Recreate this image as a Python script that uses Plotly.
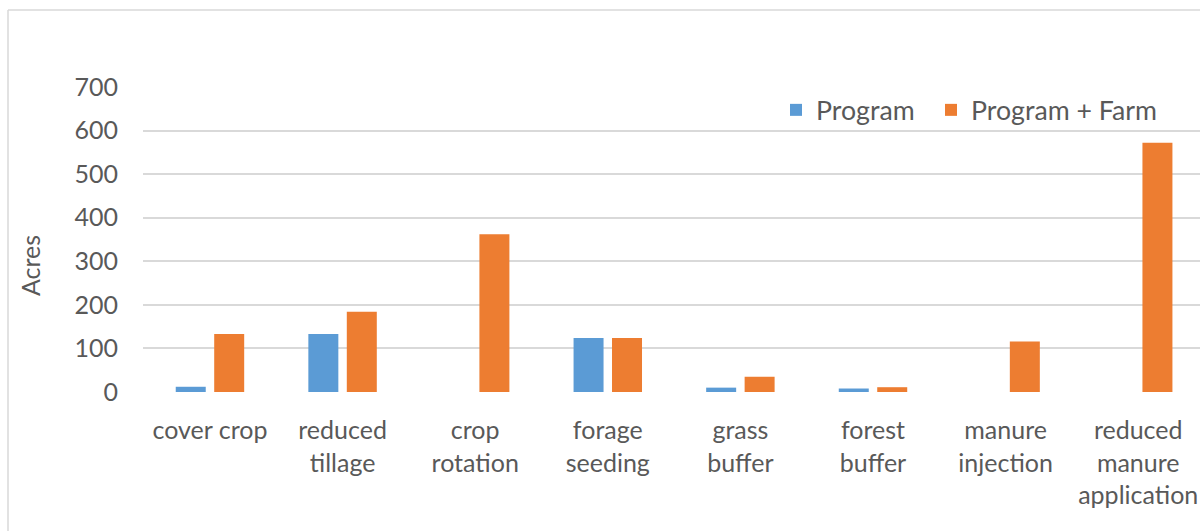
import plotly.graph_objects as go

# Acres of each conservation practice, by funding source
categories = [
    "cover crop",
    "reduced<br>tillage",
    "crop<br>rotation",
    "forage<br>seeding",
    "grass<br>buffer",
    "forest<br>buffer",
    "manure<br>injection",
    "reduced<br>manure<br>application",
]
program = [12, 133, 0, 124, 10, 8, 0, 0]
program_farm = [133, 184, 362, 124, 35, 11, 116, 572]
y_ticks = [0, 100, 200, 300, 400, 500, 600, 700]

BLUE = "#5B9BD5"
ORANGE = "#ED7D31"
TEXT = "#595959"
GRID = "#D9D9D9"
FONT = "Lato"
FS = 25
LEGEND_FS = 26.7

W, H = 1200, 531
L, R, T, B = 143, 0, 87, 139
plot_w = W - L - R
plot_h = H - T - B


def px_x(x):
    return (x - L) / plot_w


def px_y(y):
    return (H - B - y) / plot_h


def legend_box(left_px):
    return dict(
        orientation="h",
        x=px_x(left_px), xanchor="left",
        y=px_y(110), yanchor="middle",
        font=dict(family=FONT, size=LEGEND_FS, color=TEXT),
        bgcolor="rgba(255,255,255,0)",
    )


fig = go.Figure()
fig.add_trace(go.Bar(name="Program", x=categories, y=program,
                     marker=dict(color=BLUE, line=dict(width=0)),
                     legend="legend"))
fig.add_trace(go.Bar(name="Program + Farm", x=categories, y=program_farm,
                     marker=dict(color=ORANGE, line=dict(width=0)),
                     legend="legend2"))

fig.update_layout(
    width=W, height=H,
    margin=dict(l=L, r=R, t=T, b=B, pad=0),
    paper_bgcolor="white", plot_bgcolor="white",
    barmode="group", bargap=0.42, bargroupgap=0.22,
    font=dict(family=FONT, size=FS, color=TEXT),
    showlegend=True,
    legend=legend_box(776),
    legend2=legend_box(931),
    xaxis=dict(
        range=[-0.505, 7.466],
        showgrid=False, zeroline=False, showline=False,
        ticks="", ticklabelstandoff=21,
        tickfont=dict(family=FONT, size=FS, color=TEXT),
        fixedrange=True,
    ),
    yaxis=dict(
        range=[0, 700],
        tickvals=y_ticks,
        showgrid=True, gridcolor=GRID, gridwidth=1.5,
        zeroline=False, showline=False,
        ticks="", ticklabelstandoff=24,
        tickfont=dict(family=FONT, size=FS, color=TEXT),
        fixedrange=True,
    ),
    annotations=[
        dict(text="Acres", textangle=-90, showarrow=False,
             xref="paper", yref="paper",
             x=px_x(30), y=px_y(266), xanchor="center", yanchor="middle",
             font=dict(family=FONT, size=FS, color=TEXT)),
    ],
    shapes=[
        # chart frame
        dict(type="line", xref="paper", yref="paper",
             x0=px_x(8), x1=px_x(1300), y0=px_y(10), y1=px_y(10),
             line=dict(color=GRID, width=1.5)),
        dict(type="line", xref="paper", yref="paper",
             x0=px_x(8), x1=px_x(8), y0=px_y(10), y1=px_y(600),
             line=dict(color=GRID, width=1.5)),
    ],
)

fig.write_html("out.html", config={"displayModeBar": False})
